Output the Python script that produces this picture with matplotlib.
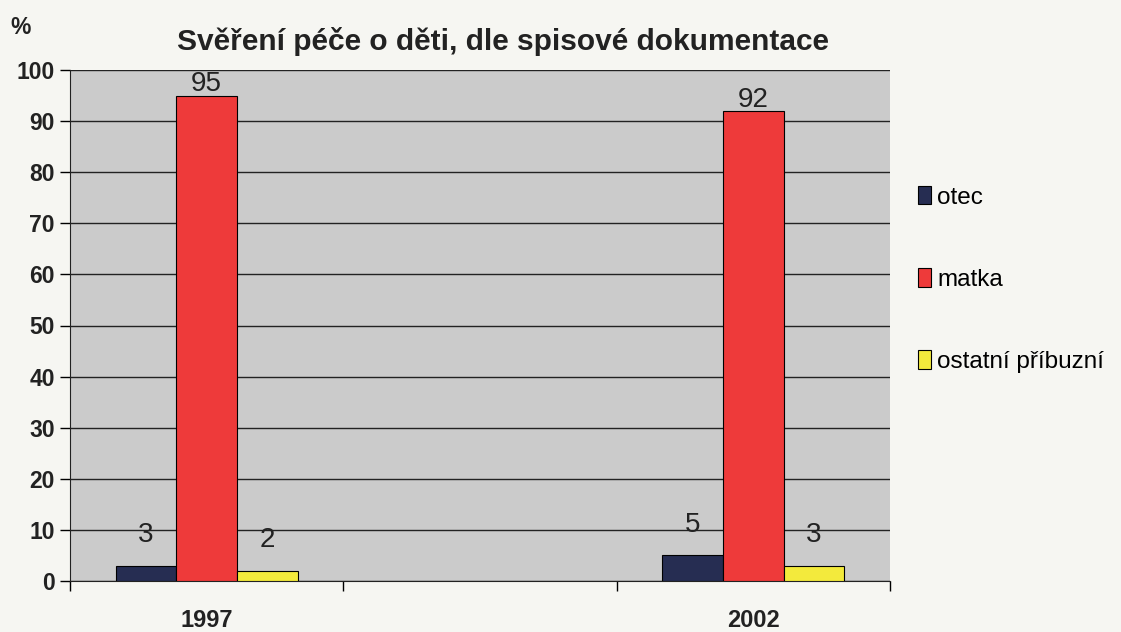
import matplotlib.pyplot as plt
import numpy as np

plt.rcParams['font.family'] = ['Liberation Sans', 'DejaVu Sans']

# data
years = ['1997', '2002']
year_slots = [0, 2]          # middle slot of the category axis stays empty
otec = [3, 5]
matka = [95, 92]
ostatni = [2, 3]
series_names = ['otec', 'matka', 'ostatní příbuzní']
colors = ['#262d52', '#ee3a3a', '#f3ea3c']
yticks = list(range(0, 101, 10))

width, height = 1121, 632
dpi = 100
fig = plt.figure(figsize=(width / dpi, height / dpi), dpi=dpi)
fig.patch.set_facecolor('#f6f6f2')
ax = fig.add_axes([70 / width, 1 - 581 / height, 820 / width, 511 / height])
ax.set_facecolor('#cbcbcb')

bar_w = 0.222
x = np.array(year_slots, dtype=float)
for i, (vals, name, col) in enumerate(zip([otec, matka, ostatni], series_names, colors)):
    bars = ax.bar(x + (i - 1) * bar_w, vals, bar_w, color=col, edgecolor='black',
                  linewidth=0.8, label=name, zorder=3)
    for b, v in zip(bars, vals):
        pad = 3 if v > 50 else 17
        ax.annotate(str(v), (b.get_x() + b.get_width() / 2, v), xytext=(0, pad),
                    textcoords='offset points', ha='center', va='baseline',
                    fontsize=20, color='#222222', zorder=4)

ax.set_ylim(0, 100)
ax.set_xlim(-0.5, 2.5)
ax.set_yticks(yticks)
ax.set_yticklabels([str(t) for t in yticks], fontsize=16.5, fontweight='bold', color='#222222')
ax.yaxis.grid(True, color='#222222', linewidth=1.0, zorder=1)
ax.set_axisbelow(True)

ax.set_xticks(x)
ax.set_xticklabels(years, fontsize=17, fontweight='bold', color='#222222')
ax.tick_params(axis='x', which='major', length=0, pad=20)
ax.set_xticks([-0.5, 0.5, 1.5, 2.5], minor=True)
ax.tick_params(axis='x', which='minor', length=7, width=1, direction='out')
ax.tick_params(axis='y', length=7, width=1, direction='out', pad=4)

for s in ['top', 'right']:
    ax.spines[s].set_visible(False)
ax.spines['left'].set_color('#222222')
ax.spines['bottom'].set_color('#222222')

fig.text(503 / width, 1 - 42 / height, 'Svěření péče o děti, dle spisové dokumentace',
         ha='center', va='center', fontsize=21.5, fontweight='bold', color='#222222')
fig.text(10 / width, 1 - 28 / height, '%', ha='left', va='center',
         fontsize=16.5, fontweight='bold', color='#222222')

ax.legend(loc='center left', bbox_to_anchor=(1.022, 0.59), frameon=False,
          fontsize=17.5, handlelength=0.55, handleheight=0.8, handletextpad=0.25,
          labelspacing=2.45, borderaxespad=0)

plt.savefig('out.png', dpi=dpi, facecolor=fig.get_facecolor())
